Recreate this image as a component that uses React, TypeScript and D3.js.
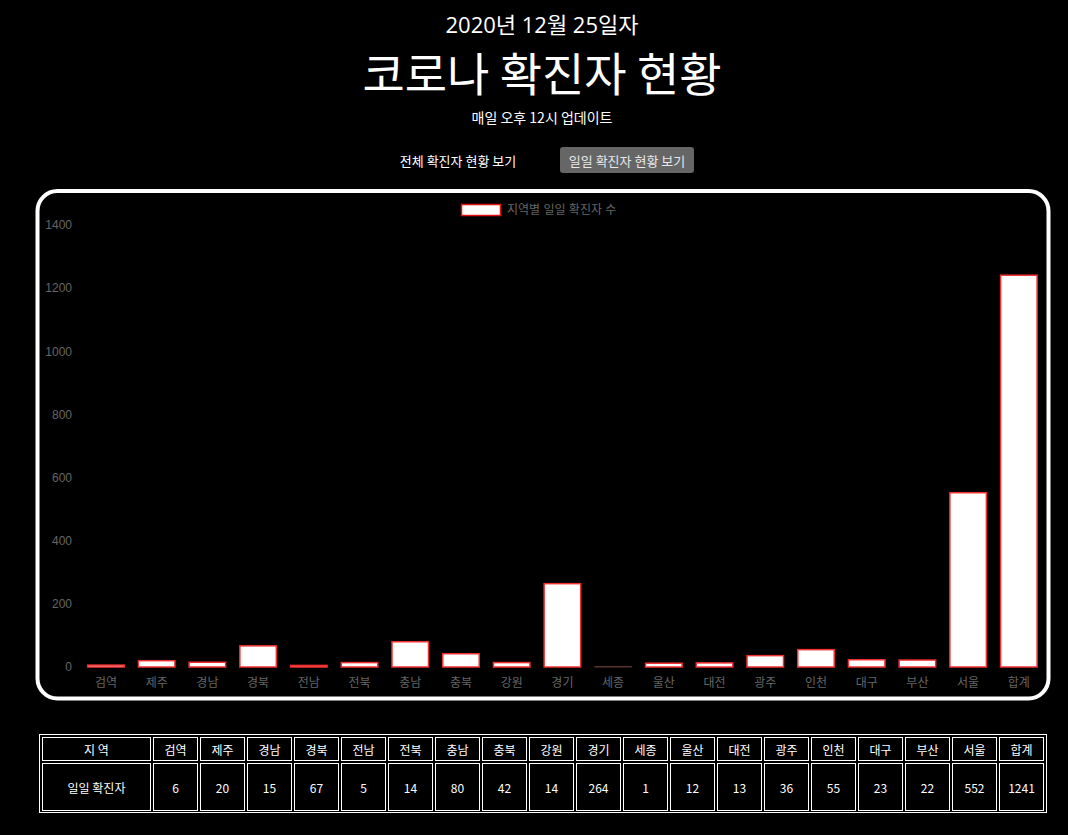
import * as d3 from "d3";
import { useEffect, useRef } from "react";

// 지역별 일일 확진자 (2020-12-25)
const regions = ["검역", "제주", "경남", "경북", "전남", "전북", "충남", "충북", "강원", "경기", "세종", "울산", "대전", "광주", "인천", "대구", "부산", "서울", "합계"];
const dailyCases = [6, 20, 15, 67, 5, 14, 80, 42, 14, 264, 1, 12, 13, 36, 55, 23, 22, 552, 1241];
const yTicks = [0, 200, 400, 600, 800, 1000, 1200, 1400];

const W = 1068;
const H = 835;
const KR = "'Noto Sans CJK KR', 'Noto Sans', sans-serif";
const CHART_FONT = "'Liberation Sans', Arial, 'Noto Sans CJK KR', sans-serif";

export default function App() {
  const svgRef = useRef<SVGSVGElement | null>(null);
  useEffect(() => {
    if (!svgRef.current) return;
    draw(svgRef.current);
  }, []);
  return (
    <svg
      ref={svgRef}
      width={W}
      height={H}
      style={{ position: "absolute", left: 0, top: 0, display: "block" }}
    />
  );
}

function draw(svgElement: SVGSVGElement) {
  const svg = d3.select(svgElement);
  svg.selectAll("*").remove();

  svg.append("rect").attr("width", W).attr("height", H).attr("fill", "#000");

  const cx = 542;

  // --- Header ---
  svg.append("text")
    .attr("x", cx).attr("y", 33)
    .attr("text-anchor", "middle")
    .style("font-family", "'Open Sans', 'Noto Sans CJK KR', sans-serif")
    .style("font-size", "22px")
    .attr("fill", "#fff")
    .text("2020년 12월 25일자");

  svg.append("text")
    .attr("x", cx).attr("y", 91)
    .attr("text-anchor", "middle")
    .style("font-family", KR)
    .style("font-size", "46px")
    .attr("fill", "#fff")
    .text("코로나 확진자 현황");

  svg.append("text")
    .attr("x", cx).attr("y", 123)
    .attr("text-anchor", "middle")
    .style("font-family", KR)
    .style("font-size", "14px")
    .attr("fill", "#fff")
    .text("매일 오후 12시 업데이트");

  // --- Buttons ---
  svg.append("text")
    .attr("x", 458).attr("y", 160)
    .attr("text-anchor", "middle")
    .attr("dominant-baseline", "central")
    .style("font-family", KR)
    .style("font-size", "13px")
    .attr("fill", "#fff")
    .text("전체 확진자 현황 보기");

  svg.append("rect")
    .attr("x", 560).attr("y", 147)
    .attr("width", 134).attr("height", 26)
    .attr("rx", 3)
    .attr("fill", "#666");

  svg.append("text")
    .attr("x", 627).attr("y", 160)
    .attr("text-anchor", "middle")
    .attr("dominant-baseline", "central")
    .style("font-family", KR)
    .style("font-size", "13px")
    .attr("fill", "#e8e8e8")
    .text("일일 확진자 현황 보기");

  // --- Chart box ---
  svg.append("rect")
    .attr("x", 37.5).attr("y", 191)
    .attr("width", 1011).attr("height", 507.5)
    .attr("rx", 20)
    .attr("fill", "none")
    .attr("stroke", "#fff")
    .attr("stroke-width", 4);

  const x = d3.scaleBand<string>()
    .domain(regions)
    .range([80.6, 1044.2])
    .paddingInner(0)
    .paddingOuter(0);

  const y = d3.scaleLinear()
    .domain([0, 1400])
    .range([667, 225]);

  const barW = x.bandwidth() * 0.72;

  // legend
  svg.append("rect")
    .attr("x", 461.5).attr("y", 204.5)
    .attr("width", 39).attr("height", 11)
    .attr("fill", "#fff")
    .attr("stroke", "#e01010")
    .attr("stroke-width", 1.5);
  svg.append("text")
    .attr("x", 507).attr("y", 210)
    .attr("dominant-baseline", "central")
    .style("font-family", CHART_FONT)
    .style("font-size", "12px")
    .attr("fill", "#666")
    .text("지역별 일일 확진자 수");

  // y axis labels
  const yAxis = svg.append("g")
    .attr("transform", "translate(82,0)")
    .call(d3.axisLeft(y).tickValues(yTicks).tickFormat(d3.format("d")).tickSize(0).tickPadding(10));
  yAxis.select(".domain").remove();
  yAxis.selectAll("text")
    .style("font-family", CHART_FONT)
    .style("font-size", "12px")
    .attr("fill", "#666");

  // bars
  svg.append("g")
    .selectAll("rect")
    .data(regions.map((r, i) => ({ region: r, value: dailyCases[i] })))
    .join("rect")
    .attr("x", d => x(d.region)! + (x.bandwidth() - barW) / 2)
    .attr("y", d => y(d.value))
    .attr("width", barW)
    .attr("height", d => y(0) - y(d.value))
    .attr("fill", "#fff")
    .attr("stroke", d => (d.value < 3 ? "#5a3030" : "#f03030"))
    .attr("stroke-width", d => (d.value < 3 ? 1 : 1.5));

  // x axis labels
  const xAxis = svg.append("g")
    .attr("transform", "translate(0,670)")
    .call(d3.axisBottom(x).tickSize(0).tickPadding(8));
  xAxis.select(".domain").remove();
  xAxis.selectAll("text")
    .style("font-family", CHART_FONT)
    .style("font-size", "12px")
    .attr("fill", "#666");

  // --- Table ---
  svg.append("rect")
    .attr("x", 39.5).attr("y", 734.5)
    .attr("width", 1007).attr("height", 78)
    .attr("fill", "none")
    .attr("stroke", "#fff");

  const colX = (i: number) => (i === 0 ? 42 : 153 + (i - 1) * 47);
  const colW = (i: number) => (i === 0 ? 109 : 45);
  const rows = [
    { top: 737, h: 24, cells: ["지역", ...regions] },
    { top: 763, h: 48, cells: ["일일 확진자", ...dailyCases.map(String)] },
  ];

  rows.forEach(row => {
    const g = svg.append("g");
    g.selectAll("rect")
      .data(row.cells)
      .join("rect")
      .attr("x", (_, i) => colX(i) + 0.5)
      .attr("y", row.top + 0.5)
      .attr("width", (_, i) => colW(i) - 1)
      .attr("height", row.h - 1)
      .attr("fill", "none")
      .attr("stroke", "#fff");
    g.selectAll("text")
      .data(row.cells)
      .join("text")
      .attr("x", (_, i) => colX(i) + colW(i) / 2)
      .attr("y", row.top + row.h / 2)
      .attr("text-anchor", "middle")
      .attr("dominant-baseline", "central")
      .style("font-family", KR)
      .style("font-size", "12px")
      .attr("fill", "#fff")
      .text(d => (d === "지역" ? "지 역" : d));
  });
}
